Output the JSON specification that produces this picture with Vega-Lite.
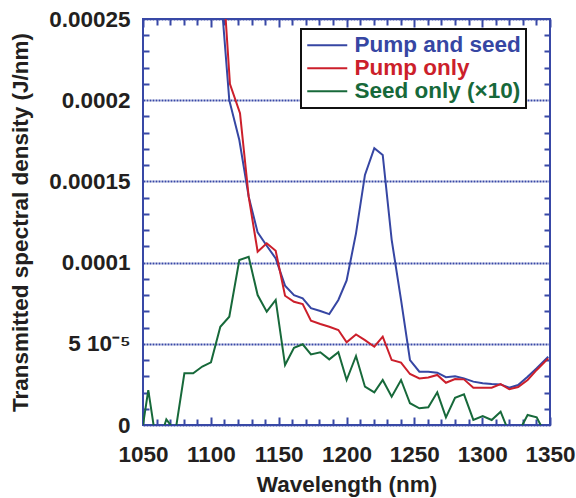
{
  "$schema": "https://vega.github.io/schema/vega-lite/v6.json",
  "width": 407,
  "height": 406,
  "autosize": {"type": "none"},
  "padding": {"left": 143, "top": 19, "right": 26, "bottom": 73},
  "background": "white",
  "config": {
    "view": {"stroke": "#3848a6", "strokeWidth": 2},
    "font": "Liberation Sans",
    "legend": {"strokeWidth": 2}
  },
  "datasets": {
    "spectra": [
      {"w": 1100, "v": 0.00036, "s": "Pump and seed"},
      {"w": 1107, "v": 0.00027, "s": "Pump and seed"},
      {"w": 1113.6, "v": 0.0002, "s": "Pump and seed"},
      {"w": 1121, "v": 0.0001755, "s": "Pump and seed"},
      {"w": 1127.9, "v": 0.0001406, "s": "Pump and seed"},
      {"w": 1134.5, "v": 0.0001186, "s": "Pump and seed"},
      {"w": 1141.2, "v": 0.0001104, "s": "Pump and seed"},
      {"w": 1147.8, "v": 0.0001026, "s": "Pump and seed"},
      {"w": 1154.7, "v": 0.0000858, "s": "Pump and seed"},
      {"w": 1161.3, "v": 0.00008, "s": "Pump and seed"},
      {"w": 1167.7, "v": 0.000078, "s": "Pump and seed"},
      {"w": 1173.8, "v": 0.0000719, "s": "Pump and seed"},
      {"w": 1180.7, "v": 0.0000702, "s": "Pump and seed"},
      {"w": 1187.3, "v": 0.0000683, "s": "Pump and seed"},
      {"w": 1194, "v": 0.000077, "s": "Pump and seed"},
      {"w": 1200.1, "v": 0.000089, "s": "Pump and seed"},
      {"w": 1207, "v": 0.000118, "s": "Pump and seed"},
      {"w": 1213.6, "v": 0.000154, "s": "Pump and seed"},
      {"w": 1220.5, "v": 0.0001704, "s": "Pump and seed"},
      {"w": 1226.7, "v": 0.0001663, "s": "Pump and seed"},
      {"w": 1233.3, "v": 0.000114, "s": "Pump and seed"},
      {"w": 1240.2, "v": 0.000077, "s": "Pump and seed"},
      {"w": 1246.8, "v": 0.00004, "s": "Pump and seed"},
      {"w": 1253.7, "v": 0.0000328, "s": "Pump and seed"},
      {"w": 1260.3, "v": 0.0000328, "s": "Pump and seed"},
      {"w": 1266.9, "v": 0.0000322, "s": "Pump and seed"},
      {"w": 1273.3, "v": 0.0000294, "s": "Pump and seed"},
      {"w": 1280, "v": 0.00003, "s": "Pump and seed"},
      {"w": 1286.6, "v": 0.0000287, "s": "Pump and seed"},
      {"w": 1293.5, "v": 0.0000267, "s": "Pump and seed"},
      {"w": 1300.4, "v": 0.0000257, "s": "Pump and seed"},
      {"w": 1307, "v": 0.0000252, "s": "Pump and seed"},
      {"w": 1313.6, "v": 0.000025, "s": "Pump and seed"},
      {"w": 1320, "v": 0.000023, "s": "Pump and seed"},
      {"w": 1326.5, "v": 0.0000246, "s": "Pump and seed"},
      {"w": 1333.5, "v": 0.0000297, "s": "Pump and seed"},
      {"w": 1340.2, "v": 0.0000349, "s": "Pump and seed"},
      {"w": 1348.7, "v": 0.000042, "s": "Pump and seed"},
      {"w": 1100, "v": 0.0004, "s": "Pump only"},
      {"w": 1107, "v": 0.0003, "s": "Pump only"},
      {"w": 1114.1, "v": 0.00021, "s": "Pump only"},
      {"w": 1121.5, "v": 0.000192, "s": "Pump only"},
      {"w": 1127.9, "v": 0.0001406, "s": "Pump only"},
      {"w": 1134.5, "v": 0.0001067, "s": "Pump only"},
      {"w": 1141.2, "v": 0.0001119, "s": "Pump only"},
      {"w": 1147.8, "v": 0.0001073, "s": "Pump only"},
      {"w": 1154.7, "v": 0.0000796, "s": "Pump only"},
      {"w": 1161.3, "v": 0.0000759, "s": "Pump only"},
      {"w": 1167.7, "v": 0.0000745, "s": "Pump only"},
      {"w": 1173.8, "v": 0.0000642, "s": "Pump only"},
      {"w": 1180.7, "v": 0.0000622, "s": "Pump only"},
      {"w": 1187.3, "v": 0.0000605, "s": "Pump only"},
      {"w": 1194, "v": 0.0000585, "s": "Pump only"},
      {"w": 1200.1, "v": 0.0000509, "s": "Pump only"},
      {"w": 1207, "v": 0.0000558, "s": "Pump only"},
      {"w": 1213.6, "v": 0.0000523, "s": "Pump only"},
      {"w": 1220.5, "v": 0.0000482, "s": "Pump only"},
      {"w": 1226.7, "v": 0.0000544, "s": "Pump only"},
      {"w": 1233.3, "v": 0.00004, "s": "Pump only"},
      {"w": 1240.2, "v": 0.0000384, "s": "Pump only"},
      {"w": 1246.8, "v": 0.0000314, "s": "Pump only"},
      {"w": 1253.7, "v": 0.0000287, "s": "Pump only"},
      {"w": 1260.3, "v": 0.0000292, "s": "Pump only"},
      {"w": 1266.9, "v": 0.0000308, "s": "Pump only"},
      {"w": 1273.3, "v": 0.000026, "s": "Pump only"},
      {"w": 1280, "v": 0.0000283, "s": "Pump only"},
      {"w": 1286.6, "v": 0.0000281, "s": "Pump only"},
      {"w": 1293.5, "v": 0.000023, "s": "Pump only"},
      {"w": 1300.4, "v": 0.000023, "s": "Pump only"},
      {"w": 1307, "v": 0.000023, "s": "Pump only"},
      {"w": 1313.6, "v": 0.0000252, "s": "Pump only"},
      {"w": 1320, "v": 0.000022, "s": "Pump only"},
      {"w": 1326.5, "v": 0.0000234, "s": "Pump only"},
      {"w": 1333.5, "v": 0.0000277, "s": "Pump only"},
      {"w": 1340.2, "v": 0.0000339, "s": "Pump only"},
      {"w": 1348.7, "v": 0.000041, "s": "Pump only"},
      {"w": 1050, "v": 0, "s": "Seed only (×10)"},
      {"w": 1053.9, "v": 0.0000215, "s": "Seed only (×10)"},
      {"w": 1060.5, "v": -0.000015, "s": "Seed only (×10)"},
      {"w": 1067.2, "v": 0.0000035, "s": "Seed only (×10)"},
      {"w": 1073.9, "v": -0.000004, "s": "Seed only (×10)"},
      {"w": 1080.5, "v": 0.0000318, "s": "Seed only (×10)"},
      {"w": 1087, "v": 0.0000318, "s": "Seed only (×10)"},
      {"w": 1093.7, "v": 0.000036, "s": "Seed only (×10)"},
      {"w": 1100.1, "v": 0.0000386, "s": "Seed only (×10)"},
      {"w": 1107, "v": 0.0000605, "s": "Seed only (×10)"},
      {"w": 1113.6, "v": 0.0000667, "s": "Seed only (×10)"},
      {"w": 1121, "v": 0.0001016, "s": "Seed only (×10)"},
      {"w": 1127.9, "v": 0.0001036, "s": "Seed only (×10)"},
      {"w": 1134.5, "v": 0.00008, "s": "Seed only (×10)"},
      {"w": 1141.2, "v": 0.0000698, "s": "Seed only (×10)"},
      {"w": 1147.8, "v": 0.000077, "s": "Seed only (×10)"},
      {"w": 1154.7, "v": 0.0000369, "s": "Seed only (×10)"},
      {"w": 1161.3, "v": 0.0000476, "s": "Seed only (×10)"},
      {"w": 1167.7, "v": 0.0000497, "s": "Seed only (×10)"},
      {"w": 1173.8, "v": 0.0000435, "s": "Seed only (×10)"},
      {"w": 1180.7, "v": 0.0000448, "s": "Seed only (×10)"},
      {"w": 1187.3, "v": 0.0000404, "s": "Seed only (×10)"},
      {"w": 1194, "v": 0.0000448, "s": "Seed only (×10)"},
      {"w": 1200.1, "v": 0.0000277, "s": "Seed only (×10)"},
      {"w": 1207, "v": 0.0000425, "s": "Seed only (×10)"},
      {"w": 1213.6, "v": 0.0000236, "s": "Seed only (×10)"},
      {"w": 1220.5, "v": 0.0000201, "s": "Seed only (×10)"},
      {"w": 1226.7, "v": 0.0000277, "s": "Seed only (×10)"},
      {"w": 1233.3, "v": 0.0000174, "s": "Seed only (×10)"},
      {"w": 1240.2, "v": 0.0000277, "s": "Seed only (×10)"},
      {"w": 1246.8, "v": 0.0000134, "s": "Seed only (×10)"},
      {"w": 1253.7, "v": 0.0000103, "s": "Seed only (×10)"},
      {"w": 1260.3, "v": 0.0000109, "s": "Seed only (×10)"},
      {"w": 1266.9, "v": 0.0000201, "s": "Seed only (×10)"},
      {"w": 1273.3, "v": 0.0000047, "s": "Seed only (×10)"},
      {"w": 1280, "v": 0.0000168, "s": "Seed only (×10)"},
      {"w": 1286.6, "v": 0.0000189, "s": "Seed only (×10)"},
      {"w": 1293.5, "v": 0.0000031, "s": "Seed only (×10)"},
      {"w": 1300.4, "v": 0.0000055, "s": "Seed only (×10)"},
      {"w": 1307, "v": 0.0000031, "s": "Seed only (×10)"},
      {"w": 1313.6, "v": 0.0000082, "s": "Seed only (×10)"},
      {"w": 1320, "v": -0.000005, "s": "Seed only (×10)"},
      {"w": 1326.5, "v": -0.000005, "s": "Seed only (×10)"},
      {"w": 1333.5, "v": 0.0000062, "s": "Seed only (×10)"},
      {"w": 1340.2, "v": 0.0000047, "s": "Seed only (×10)"},
      {"w": 1346.8, "v": -0.000006, "s": "Seed only (×10)"}
    ]
  },
  "data": {"name": "spectra"},
  "mark": {"type": "line", "clip": true, "strokeWidth": 2},
  "encoding": {
    "x": {
      "field": "w", "type": "quantitative",
      "scale": {"domain": [1050, 1350], "nice": false, "zero": false},
      "axis": {
        "orient": "bottom",
        "title": "Wavelength (nm)",
        "domain": false,
        "ticks": false,
        "values": [1050,1060,1070,1080,1090,1100,1110,1120,1130,1140,1150,1160,1170,1180,1190,1200,1210,1220,1230,1240,1250,1260,1270,1280,1290,1300,1310,1320,1330,1340,1350],
        "labelExpr": "datum.value % 50 == 0 ? datum.value : ''",
        "labelFont": "Liberation Sans", "labelFontSize": 22.5, "labelFontWeight": "bold", "labelColor": "#231f20",
        "labelPadding": 18, "labelFlush": false, "labelOverlap": false,
        "grid": true,
        "gridColor": "#3848a6", "gridWidth": 2, "gridOpacity": 1,
        "gridDash": {"condition": {"test": "datum.value % 50 == 0", "value": [8, 390]}, "value": [6, 394]},
        "titleFont": "Liberation Sans", "titleFontSize": 22.5, "titleFontWeight": "bold", "titleColor": "#231f20",
        "titlePadding": 8
      }
    },
    "y": {
      "field": "v", "type": "quantitative",
      "scale": {"domain": [0, 0.00025], "nice": false, "zero": false},
      "axis": {
        "orient": "left",
        "title": "Transmitted spectral density (J/nm)",
        "domain": false,
        "ticks": false,
        "values": [0,0.00001,0.00002,0.00003,0.00004,0.00005,0.00006,0.00007,0.00008,0.00009,0.0001,0.00011,0.00012,0.00013,0.00014,0.00015,0.00016,0.00017,0.00018,0.00019,0.0002,0.00021,0.00022,0.00023,0.00024,0.00025],
        "labelExpr": "round(datum.value*1e5) == 25 ? '0.00025' : round(datum.value*1e5) == 20 ? '0.0002' : round(datum.value*1e5) == 15 ? '0.00015' : round(datum.value*1e5) == 10 ? '0.0001' : round(datum.value*1e5) == 5 ? '5 10⁻⁵' : round(datum.value*1e5) == 0 ? '0' : ''",
        "labelFont": "Liberation Sans", "labelFontSize": 22.5, "labelFontWeight": "bold", "labelColor": "#231f20",
        "labelPadding": 13, "labelFlush": false, "labelOverlap": false,
        "grid": true,
        "gridColor": "#3848a6", "gridWidth": 2, "gridOpacity": 1,
        "gridDash": {"condition": {"test": "round(datum.value*1e5) % 5 == 0", "value": [2, 1]}, "value": [6, 395]},
        "titleFont": "Liberation Sans", "titleFontSize": 22.5, "titleFontWeight": "bold", "titleColor": "#231f20",
        "titlePadding": 16
      }
    },
    "color": {
      "field": "s", "type": "nominal",
      "scale": {"domain": ["Pump and seed", "Pump only", "Seed only (×10)"], "range": ["#3646a3", "#cc1f2b", "#17693a"]},
      "legend": {
        "title": null,
        "orient": "none",
        "legendX": 158,
        "legendY": 10,
        "padding": 5,
        "fillColor": "white",
        "strokeColor": "#111111",
        "symbolType": "M-1,0H3",
        "symbolSize": 400,
        "symbolStrokeWidth": 2,
        "labelFont": "Liberation Sans",
        "labelFontSize": 22.5,
        "labelFontWeight": "bold",
        "labelColor": {"expr": "datum.value == 'Pump and seed' ? '#3646a3' : datum.value == 'Pump only' ? '#cc1f2b' : '#17693a'"},
        "labelOffset": 26,
        "rowPadding": 0,
        "labelLimit": 300
      }
    }
  }
}
